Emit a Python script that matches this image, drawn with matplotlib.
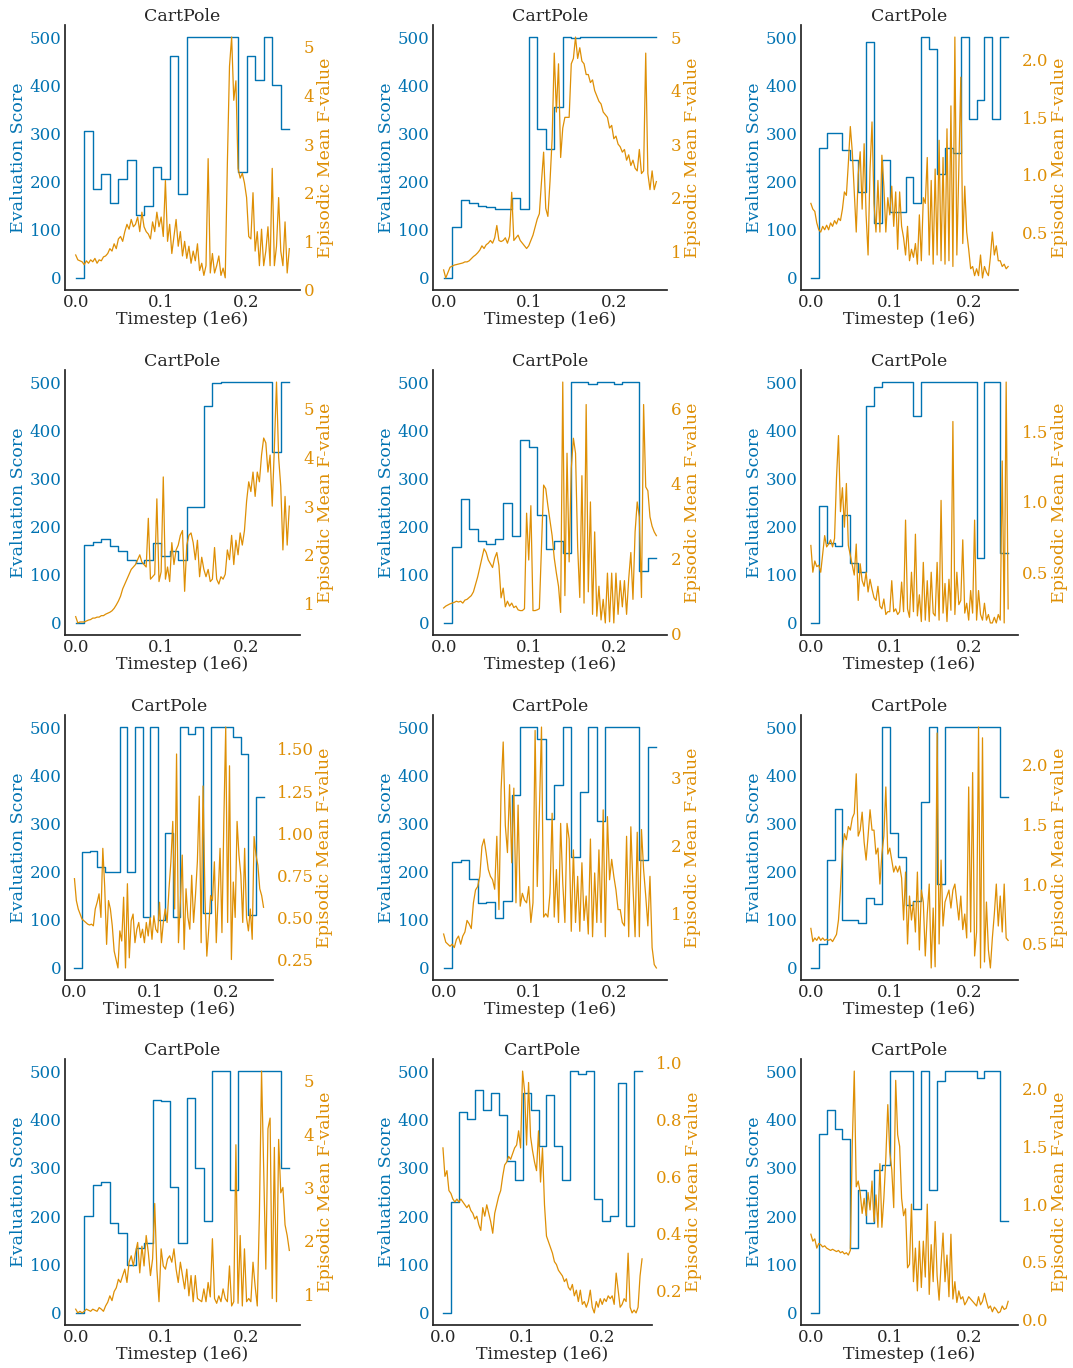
import numpy as np
import matplotlib
matplotlib.use("Agg")
import matplotlib.pyplot as plt

plt.rcParams['font.family'] = ['DejaVu Serif']
plt.rcParams['font.size'] = 12

BLUE = '#0173b2'
ORANGE = '#de8f05'
DARK = '#262626'

# ---------------- data ----------------
eval_1 = [0, 305, 185, 215, 155, 205, 245, 130, 150, 230, 205, 460, 175,
          500, 500, 500, 500, 500, 500, 220, 460, 410, 500, 400, 310]
fval_1 = [0.72, 0.62, 0.6, 0.58, 0.52, 0.6, 0.55, 0.62, 0.58, 0.65, 0.55, 0.62,
          0.6, 0.68, 0.7, 0.75, 0.85, 0.8, 0.95, 0.85, 1.05, 1.1, 1.0, 1.2,
          1.35, 1.25, 1.45, 1.3, 1.35, 1.5, 1.2, 1.6, 1.3, 1.2, 1.15, 1.05,
          1.4, 1.2, 1.6, 1.3, 1.5, 1.1, 2.25, 1.0, 1.35, 0.75, 1.1, 1.45,
          0.9, 1.2, 0.7, 1.0, 0.65, 0.9, 0.55, 0.8, 0.6, 0.95, 0.4, 0.55,
          0.3, 0.5, 2.7, 0.35, 0.75, 0.35, 0.5, 0.7, 0.3, 0.45, 0.25, 2.6,
          4.6, 5.2, 3.9, 4.3, 2.5, 2.3, 2.4, 2.2, 1.9, 1.1, 1.05, 2.0,
          0.8, 1.2, 0.5, 1.25, 0.5, 0.8, 1.3, 0.5, 2.5, 0.5, 0.9, 1.9,
          0.8, 0.5, 1.4, 0.35, 0.85]
fticks_1 = [0, 1, 2, 3, 4, 5]

eval_2 = [0, 105, 162, 155, 150, 148, 143, 143, 165, 143, 500, 310, 268,
          355, 500, 497, 500, 500, 500, 500, 500, 500, 500, 500, 500]
fval_2 = [0.65, 0.5, 0.6, 0.7, 0.72, 0.74, 0.75, 0.76, 0.77, 0.78, 0.8, 0.8,
          0.82, 0.86, 0.9, 0.93, 0.97, 1.02, 1.1, 1.05, 1.12, 1.15, 1.2, 1.15,
          1.25, 1.48, 1.2, 1.18, 1.2, 1.25, 1.15, 1.28, 2.1, 1.2, 1.25, 1.3,
          1.2, 1.15, 1.1, 1.05, 1.1, 1.2, 1.3, 1.45, 1.6, 1.7, 2.3, 2.85,
          1.8, 1.65, 2.3, 3.1, 4.7, 3.6, 4.5, 2.75, 3.3, 3.5, 3.5, 3.5,
          4.5, 4.6, 5.0, 4.6, 4.8, 4.55, 4.5, 4.3, 4.3, 4.15, 4.2, 4.0,
          3.9, 3.8, 3.75, 3.6, 3.55, 3.5, 3.3, 3.35, 3.1, 3.15, 3.0, 2.95,
          2.85, 2.9, 2.7, 2.8, 2.6, 2.7, 2.55, 2.5, 2.9, 2.45, 2.5, 4.7,
          2.45, 2.15, 2.5, 2.15, 2.3]
fticks_2 = [1, 2, 3, 4, 5]

eval_3 = [0, 270, 300, 300, 265, 245, 178, 490, 115, 245, 137, 137, 210,
          155, 500, 475, 215, 270, 260, 500, 330, 370, 500, 330, 500]
fval_3 = [0.75, 0.7, 0.68, 0.58, 0.52, 0.5, 0.55, 0.52, 0.56, 0.52, 0.58, 0.55,
          0.6, 0.57, 0.62, 0.6, 0.7, 0.85, 0.82, 1.1, 1.42, 1.2, 0.85, 0.5,
          1.0, 1.2, 0.7, 1.27, 0.65, 0.3, 1.05, 1.46, 0.75, 0.5, 0.95, 0.5,
          1.17, 0.9, 0.5, 0.8, 0.65, 0.9, 0.55, 0.85, 0.35, 0.85, 0.55, 0.45,
          0.3, 0.55, 0.25, 0.35, 0.28, 0.4, 0.22, 0.65, 0.25, 0.8, 0.75, 1.15,
          0.3, 0.95, 0.22, 1.05, 0.3, 1.3, 0.25, 1.15, 0.22, 1.4, 0.25, 1.6,
          0.2, 2.2, 0.3, 1.05, 1.85, 0.4, 0.9, 0.5, 0.35, 0.18, 0.2, 0.12,
          0.18, 0.12, 0.3, 0.1, 0.2, 0.15, 0.12, 0.28, 0.5, 0.3, 0.38, 0.25,
          0.25, 0.2, 0.22, 0.18, 0.2]
fticks_3 = [0.5, 1.0, 1.5, 2.0]

eval_4 = [0, 162, 168, 175, 160, 150, 130, 125, 130, 165, 140, 150, 130,
          240, 240, 450, 497, 500, 500, 500, 500, 500, 500, 355, 500]
fval_4 = [0.73, 0.6, 0.62, 0.62, 0.62, 0.64, 0.66, 0.67, 0.7, 0.7, 0.72, 0.72,
          0.75, 0.75, 0.78, 0.8, 0.82, 0.85, 0.9, 0.97, 1.05, 1.15, 1.3, 1.4,
          1.5, 1.6, 1.7, 1.75, 1.8, 1.9, 2.0, 1.85, 1.8, 1.75, 2.75, 1.5,
          1.55, 1.6, 3.15, 1.45, 1.65, 3.6, 1.5, 1.75, 1.45, 2.25, 1.8, 2.1,
          2.2, 2.4, 2.5, 1.25, 2.2, 2.4, 2.45, 2.25, 1.9, 2.3, 1.55, 1.95,
          1.7, 1.55, 1.7, 1.45, 1.5, 2.15, 1.5, 1.4, 1.55, 1.5, 1.6, 2.1,
          1.9, 2.4, 1.8, 2.3, 2.0, 2.45, 2.2, 2.5, 3.1, 3.5, 3.3, 3.7,
          3.2, 3.7, 3.5, 4.05, 4.4, 4.3, 3.7, 4.05, 3.0, 4.2, 5.55, 4.0,
          3.4, 2.1, 3.2, 2.2, 3.0]
fticks_4 = [1, 2, 3, 4, 5]

eval_5 = [0, 157, 257, 195, 170, 163, 175, 250, 180, 380, 365, 225, 153,
          170, 145, 500, 500, 495, 500, 500, 495, 500, 500, 108, 135]
fval_5 = [0.67, 0.72, 0.75, 0.78, 0.8, 0.82, 0.85, 0.83, 0.85, 0.8, 0.88, 0.9,
          0.95, 1.0, 1.1, 1.3, 1.5, 1.75, 2.0, 2.25, 2.15, 1.95, 1.85, 1.75,
          2.0, 2.15, 1.8, 0.94, 1.2, 0.7, 0.85, 0.72, 0.8, 0.68, 0.72, 0.62,
          0.6, 0.6, 0.65, 3.2, 1.95, 3.4, 0.6, 0.6, 0.62, 0.65, 2.3, 3.95,
          3.85, 3.4, 3.0, 2.6, 2.0, 1.6, 1.25, 0.55, 6.7, 1.0, 4.8, 1.9,
          4.4, 5.2, 4.8, 2.3, 0.95, 4.2, 0.8, 6.1, 1.1, 3.5, 0.5, 2.7,
          0.45, 1.25, 0.35, 0.9, 0.27, 1.6, 0.3, 1.6, 0.27, 1.6, 0.5, 1.4,
          0.7, 1.4, 0.5, 1.45, 2.15, 0.9, 2.7, 3.5, 3.1, 0.95, 6.1, 3.9,
          3.8, 3.1, 2.85, 2.7, 2.6]
fticks_5 = [0, 2, 4, 6]

eval_6 = [0, 242, 165, 160, 225, 125, 105, 450, 490, 500, 500, 500, 500,
          430, 500, 500, 500, 500, 500, 500, 500, 135, 500, 500, 145]
fval_6 = [0.69, 0.5, 0.58, 0.54, 0.55, 0.5, 0.63, 0.76, 0.68, 0.7, 0.73, 0.68,
          0.74, 1.17, 1.47, 0.93, 1.1, 0.82, 1.13, 0.69, 0.62, 0.55, 0.48, 0.7,
          0.3, 0.56, 0.44, 0.4, 0.5, 0.36, 0.45, 0.38, 0.32, 0.3, 0.4, 0.26,
          0.24, 0.31, 0.2, 0.22, 0.22, 0.44, 0.22, 0.24, 0.2, 0.22, 0.43, 0.22,
          0.87, 0.24, 0.18, 0.5, 0.22, 0.77, 0.19, 0.34, 0.15, 0.57, 0.16, 0.44,
          0.15, 0.5, 0.21, 0.19, 0.57, 0.16, 1.01, 0.21, 0.42, 0.15, 0.45, 0.23,
          1.57, 0.2, 0.5, 0.27, 0.3, 0.73, 0.21, 0.28, 0.16, 0.37, 0.21, 0.87,
          0.16, 0.37, 0.2, 0.16, 0.28, 0.16, 0.2, 0.14, 0.14, 0.18, 0.14, 0.2,
          0.16, 1.29, 0.14, 1.85, 0.24]
fticks_6 = [0.5, 1.0, 1.5]

eval_7 = [0, 240, 242, 210, 200, 200, 500, 200, 500, 105, 500, 100, 280,
          105, 500, 485, 500, 115, 500, 500, 500, 480, 445, 110, 355]
fval_7 = [0.73, 0.6, 0.55, 0.52, 0.49, 0.48, 0.47, 0.46, 0.455, 0.46, 0.45, 0.55,
          0.59, 0.64, 0.5, 0.91, 0.68, 0.34, 0.6, 0.55, 0.45, 0.3, 0.25, 0.2,
          0.42, 0.36, 0.62, 0.2, 0.7, 0.26, 0.48, 0.52, 0.35, 0.43, 0.47, 0.38,
          0.43, 0.35, 0.47, 0.39, 0.5, 0.37, 0.51, 0.43, 0.41, 0.59, 0.35, 0.47,
          0.55, 0.47, 0.67, 0.83, 1.07, 0.55, 1.47, 0.35, 0.59, 0.87, 0.31, 0.67,
          0.5, 0.43, 0.75, 0.47, 0.63, 0.83, 1.22, 0.35, 1.28, 0.63, 0.27, 0.43,
          0.63, 0.6, 0.83, 0.35, 0.63, 0.91, 0.41, 1.07, 1.63, 0.47, 1.4, 0.25,
          0.71, 0.5, 1.07, 0.87, 0.75, 0.47, 0.91, 0.5, 0.42, 0.55, 0.37, 0.98,
          0.87, 0.81, 0.67, 0.63, 0.56]
fticks_7 = [0.25, 0.5, 0.75, 1.0, 1.25, 1.5]

eval_8 = [0, 220, 225, 185, 135, 137, 103, 140, 360, 500, 500, 475, 310,
          380, 500, 230, 365, 500, 305, 500, 500, 500, 500, 225, 458]
fval_8 = [0.7, 0.58, 0.55, 0.52, 0.55, 0.5, 0.62, 0.67, 0.55, 0.67, 0.73, 0.9,
          0.85, 0.78, 1.16, 1.35, 1.4, 1.55, 1.99, 2.1, 1.89, 1.65, 1.55, 1.5,
          1.36, 2.14, 1.06, 2.82, 3.53, 2.3, 1.9, 2.9, 1.75, 2.85, 1.16, 2.6,
          1.11, 1.3, 1.2, 1.16, 1.4, 0.87, 1.16, 3.7, 1.4, 2.5, 3.75, 0.95,
          1.0, 0.95, 1.3, 2.48, 0.95, 1.65, 0.87, 2.33, 1.45, 0.87, 2.33, 2.1,
          0.74, 1.94, 0.87, 1.55, 0.74, 1.75, 0.9, 1.26, 0.7, 2.1, 0.66, 1.6,
          0.87, 1.94, 0.87, 2.53, 0.66, 2.43, 1.5, 1.8, 1.55, 1.35, 1.06, 1.06,
          0.87, 0.82, 2.14, 0.66, 2.28, 1.4, 0.66, 2.2, 0.66, 2.24, 1.65, 1.26,
          0.82, 1.55, 0.5, 0.25, 0.2]
fticks_8 = [1, 2, 3]

eval_9 = [0, 50, 225, 330, 100, 100, 93, 145, 133, 500, 280, 230, 130,
          138, 345, 500, 175, 500, 500, 500, 500, 500, 500, 500, 355]
fval_9 = [0.63, 0.52, 0.55, 0.53, 0.56, 0.53, 0.55, 0.53, 0.54, 0.53, 0.54, 0.52,
          0.55, 0.58, 0.7, 0.95, 1.28, 1.42, 1.37, 1.48, 1.45, 1.55, 1.59, 1.92,
          1.4, 1.45, 1.6, 1.35, 1.2, 1.4, 1.62, 1.45, 1.45, 1.25, 1.3, 1.0,
          1.25, 1.4, 1.81, 1.25, 1.3, 1.2, 1.1, 1.15, 1.1, 1.15, 1.05, 0.7,
          1.1, 0.5, 0.9, 0.7, 0.85, 0.6, 1.1, 0.45, 0.95, 0.85, 0.4, 0.75,
          1.0, 0.3, 0.8, 0.31, 2.26, 0.5, 1.2, 0.65, 0.85, 0.9, 0.95, 0.8,
          0.95, 1.0, 0.85, 0.7, 0.9, 0.62, 0.75, 0.55, 1.81, 0.6, 1.93, 0.4,
          0.6, 2.31, 0.3, 2.22, 0.35, 0.85, 0.45, 0.3, 0.55, 0.75, 1.0, 0.65,
          0.9, 0.6, 1.0, 0.55, 0.53]
fticks_9 = [0.5, 1.0, 1.5, 2.0]

eval_10 = [0, 200, 265, 270, 185, 165, 100, 135, 145, 440, 438, 260, 145,
           445, 300, 190, 500, 500, 255, 500, 500, 500, 500, 500, 300]
fval_10 = [0.72, 0.65, 0.68, 0.65, 0.68, 0.72, 0.7, 0.68, 0.72, 0.7, 0.68, 0.75,
           0.72, 0.68, 0.78, 0.85, 0.97, 0.88, 1.05, 1.12, 1.28, 1.22, 1.35, 1.47,
           1.22, 1.6, 1.72, 1.53, 1.78, 1.97, 1.4, 1.9, 1.53, 2.1, 1.78, 1.35,
           1.66, 2.7, 1.47, 0.86, 1.85, 1.53, 1.47, 1.66, 1.72, 1.6, 1.85, 1.47,
           1.22, 1.6, 1.35, 1.1, 1.47, 0.97, 1.35, 0.86, 1.35, 0.92, 0.89, 0.86,
           1.1, 0.86, 1.22, 0.95, 2.04, 0.92, 0.83, 0.97, 0.86, 1.1, 0.92, 0.86,
           1.53, 0.78, 0.86, 3.8, 0.83, 2.1, 0.78, 1.85, 0.86, 0.92, 0.86, 1.6,
           1.15, 0.78, 2.5, 5.18, 3.35, 1.47, 4.1, 4.3, 0.92, 3.75, 0.86, 3.9,
           2.9, 3.0, 2.3, 2.1, 1.82]
fticks_10 = [1, 2, 3, 4, 5]

eval_11 = [0, 230, 415, 400, 460, 420, 455, 410, 315, 275, 455, 420, 345,
           450, 345, 275, 500, 495, 500, 235, 190, 200, 475, 180, 500]
fval_11 = [0.7, 0.6, 0.62, 0.55, 0.54, 0.52, 0.51, 0.52, 0.51, 0.52, 0.51, 0.5,
           0.49, 0.5, 0.48, 0.47, 0.45, 0.46, 0.43, 0.41, 0.49, 0.46, 0.5, 0.47,
           0.44, 0.4, 0.47, 0.5, 0.53, 0.55, 0.6, 0.64, 0.65, 0.67, 0.66, 0.68,
           0.7, 0.71, 0.76, 0.7, 0.97, 0.9, 0.71, 0.93, 0.74, 0.69, 0.65, 0.62,
           0.76, 0.58, 0.7, 0.5, 0.39, 0.37, 0.35, 0.33, 0.3, 0.29, 0.27, 0.26,
           0.25, 0.23, 0.24, 0.21, 0.2, 0.22, 0.18, 0.2, 0.16, 0.2, 0.15, 0.16,
           0.14, 0.16, 0.2, 0.14, 0.12, 0.16, 0.14, 0.17, 0.15, 0.17, 0.16, 0.18,
           0.17, 0.18, 0.15, 0.26, 0.2, 0.14, 0.15, 0.17, 0.16, 0.33, 0.14, 0.12,
           0.13, 0.12, 0.14, 0.25, 0.31]
fticks_11 = [0.2, 0.4, 0.6, 0.8, 1.0]

eval_12 = [0, 370, 420, 380, 360, 135, 255, 185, 295, 305, 500, 500, 500,
           215, 500, 255, 480, 500, 500, 500, 500, 485, 500, 500, 190]
fval_12 = [0.74, 0.68, 0.7, 0.62, 0.66, 0.65, 0.63, 0.64, 0.62, 0.61, 0.6, 0.61,
           0.6, 0.59, 0.6, 0.58, 0.59, 0.57, 0.58, 0.56, 0.6, 1.52, 2.15, 1.15,
           1.2, 1.1, 0.92, 1.05, 0.9, 1.1, 0.95, 1.2, 0.85, 1.08, 0.8, 1.35,
           0.8, 1.05, 1.4, 1.86, 1.45, 1.3, 0.97, 2.07, 1.6, 1.5, 1.05, 0.9,
           0.96, 0.45, 0.48, 1.0, 0.33, 0.62, 0.25, 0.68, 0.28, 0.68, 0.37, 1.0,
           0.22, 0.65, 0.33, 0.85, 0.38, 0.17, 0.48, 0.75, 0.33, 0.56, 0.2, 0.74,
           0.18, 0.33, 0.15, 0.25, 0.18, 0.2, 0.13, 0.16, 0.2, 0.18, 0.16, 0.14,
           0.12, 0.2, 0.13, 0.16, 0.23, 0.16, 0.1, 0.12, 0.07, 0.11, 0.09, 0.06,
           0.07, 0.12, 0.09, 0.1, 0.16]
fticks_12 = [0.0, 0.5, 1.0, 1.5, 2.0]

xticks = [0.0, 0.1, 0.2]
yticks = [0, 100, 200, 300, 400, 500]
title = "CartPole"
xlabel = "Timestep (1e6)"
ylabel_left = "Evaluation Score"
ylabel_right = "Episodic Mean F-value"
t_end = 0.25

panels = [
    (eval_1, fval_1, fticks_1), (eval_2, fval_2, fticks_2), (eval_3, fval_3, fticks_3),
    (eval_4, fval_4, fticks_4), (eval_5, fval_5, fticks_5), (eval_6, fval_6, fticks_6),
    (eval_7, fval_7, fticks_7), (eval_8, fval_8, fticks_8), (eval_9, fval_9, fticks_9),
    (eval_10, fval_10, fticks_10), (eval_11, fval_11, fticks_11), (eval_12, fval_12, fticks_12),
]

# ---------------- layout (pixels) ----------------
W, H = 1073, 1368
rows_px = [(25, 290), (370, 635), (715, 980), (1059, 1325)]
cols_px = [
    [(65, 300), (433, 667), (801, 1018)],
    [(65, 300), (433, 667), (801, 1018)],
    [(65, 273), (433, 667), (801, 1018)],
    [(65, 300), (433, 652), (801, 1018)],
]

LABEL_FS = 12.5
TICK_FS = 12
TITLE_FS = 12.5

fig = plt.figure(figsize=(W / 100, H / 100), dpi=100)

for i, (ev, fv, ft) in enumerate(panels):
    r, c = divmod(i, 3)
    top, bot = rows_px[r]
    left, right = cols_px[r][c]
    ax = fig.add_axes([left / W, 1 - bot / H, (right - left) / W, (bot - top) / H])

    ev = np.asarray(ev, dtype=float)
    edges = np.linspace(0, t_end, len(ev) + 1)
    ax.step(edges, np.append(ev, ev[-1]), where='post', color=BLUE, lw=1.0)
    ax.set_yticks(yticks)
    ax.set_xticks(xticks)
    ax.set_ylabel(ylabel_left, color=BLUE, labelpad=2, fontsize=LABEL_FS)
    ax.set_xlabel(xlabel, color=DARK, labelpad=0, fontsize=LABEL_FS)
    ax.set_title(title, color=DARK, pad=3, fontsize=TITLE_FS)
    ax.tick_params(axis='y', colors=BLUE, length=0, pad=2.5, labelsize=TICK_FS)
    ax.tick_params(axis='x', colors=DARK, length=0, pad=3, labelsize=TICK_FS)
    for s in ('top', 'right'):
        ax.spines[s].set_visible(False)
    for s in ('left', 'bottom'):
        ax.spines[s].set_color(DARK)
        ax.spines[s].set_linewidth(1.25)

    ax2 = ax.twinx()
    fv = np.asarray(fv, dtype=float)
    ts = np.linspace(0, t_end, len(fv))
    ax2.plot(ts, fv, color=ORANGE, lw=0.9)
    ax2.set_yticks(ft)
    ax2.set_ylabel(ylabel_right, color=ORANGE, labelpad=2, fontsize=LABEL_FS)
    ax2.tick_params(axis='y', colors=ORANGE, length=0, pad=2.5, labelsize=TICK_FS)
    for s in ax2.spines.values():
        s.set_visible(False)

fig.savefig("out.png", dpi=100, facecolor='white')
